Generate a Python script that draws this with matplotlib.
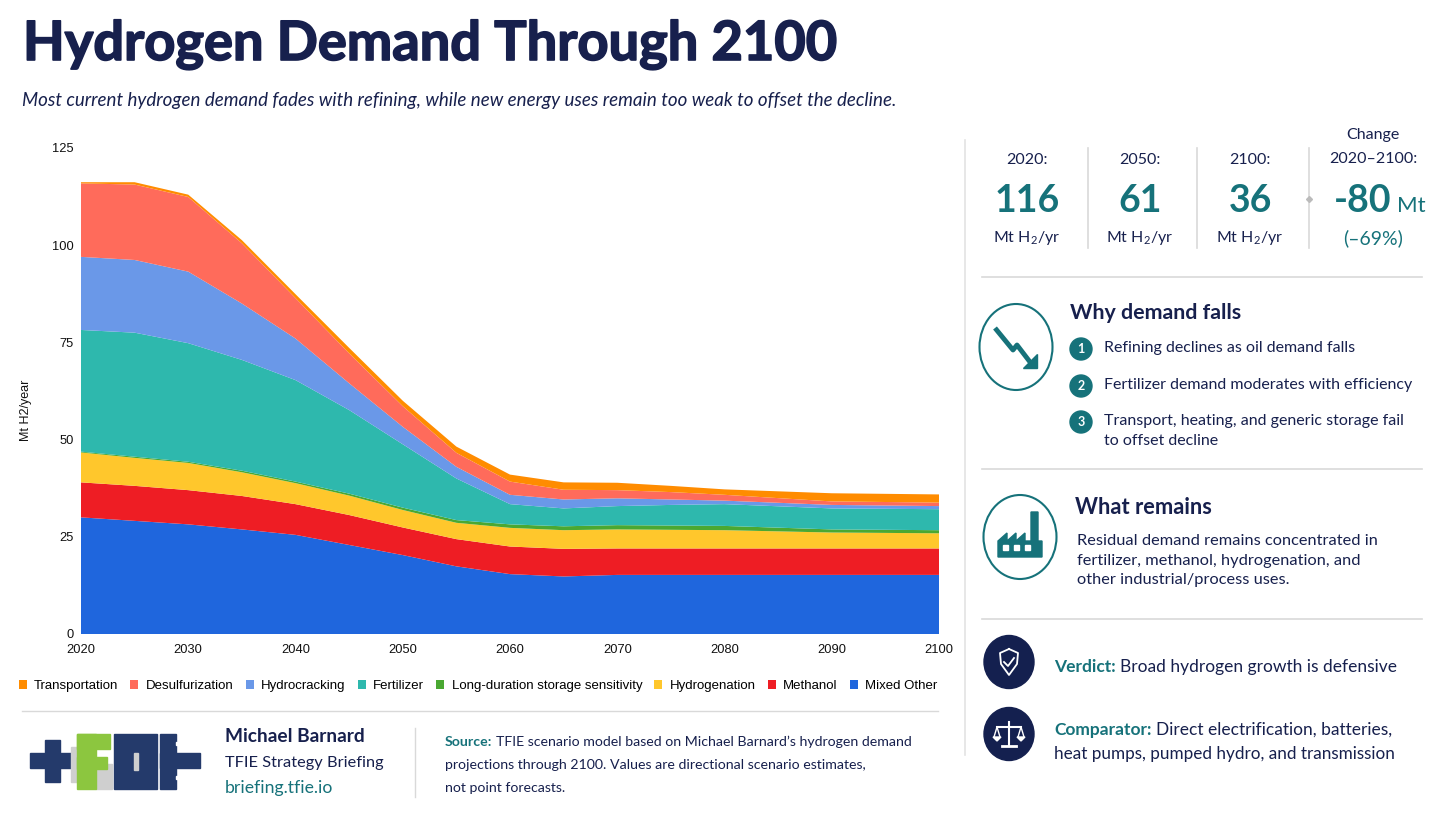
import matplotlib
matplotlib.use("Agg")
import matplotlib.pyplot as plt
import matplotlib.patheffects as pe
from matplotlib.patches import Ellipse, Rectangle, Polygon

plt.rcParams['font.family'] = ['Lato', 'DejaVu Sans']
plt.rcParams['mathtext.fontset'] = 'custom'
plt.rcParams['mathtext.rm'] = 'Lato'

# ---- data (Mt H2/yr) ----
years = [2020, 2025, 2030, 2035, 2040, 2045, 2050, 2055, 2060, 2065, 2070, 2075, 2080, 2090, 2100]
mixed_other = [30.0, 29.1, 28.2, 26.9, 25.5, 22.9, 20.3, 17.4, 15.4, 14.8, 15.2, 15.2, 15.2, 15.2, 15.2]
methanol = [9.0, 9.0, 8.8, 8.6, 7.9, 7.7, 7.1, 7.0, 7.1, 7.1, 6.8, 6.8, 6.8, 6.8, 6.8]
hydrogenation = [7.7, 7.2, 7.0, 6.1, 5.4, 5.0, 4.5, 4.2, 4.8, 4.8, 4.9, 4.8, 4.7, 4.1, 3.9]
storage = [0.2, 0.3, 0.3, 0.4, 0.4, 0.5, 0.6, 0.7, 0.9, 1.0, 1.1, 1.1, 1.1, 0.8, 0.8]
fertilizer = [31.3, 31.9, 30.5, 28.5, 26.1, 21.5, 16.3, 10.7, 5.2, 4.6, 4.9, 5.3, 5.6, 5.4, 5.4]
hydrocracking = [18.8, 18.7, 18.4, 14.5, 10.7, 6.9, 4.5, 3.0, 2.4, 2.3, 2.0, 1.4, 0.9, 0.9, 0.8]
desulfurization = [18.9, 19.4, 19.2, 15.5, 10.4, 7.7, 5.3, 3.6, 3.4, 2.5, 2.1, 1.9, 1.5, 0.9, 0.9]
transportation = [0.3, 0.6, 0.6, 0.8, 1.0, 1.4, 1.4, 1.6, 1.8, 1.9, 1.9, 1.6, 1.4, 2.1, 2.1]

series_names = ["Mixed Other", "Methanol", "Hydrogenation", "Long-duration storage sensitivity",
                "Fertilizer", "Hydrocracking", "Desulfurization", "Transportation"]
series_vals = [mixed_other, methanol, hydrogenation, storage,
               fertilizer, hydrocracking, desulfurization, transportation]
series_colors = ["#1f66dd", "#ee1d24", "#ffc72c", "#4aa832",
                 "#2eb8ad", "#6a98e8", "#ff6b5b", "#ff8c00"]

stat_years = ["2020:", "2050:", "2100:"]
stat_values = ["116", "61", "36"]
change_value = "-80"
change_pct = "(\u201369%)"

why_items = ["Refining declines as oil demand falls",
             "Fertilizer demand moderates with efficiency",
             "Transport, heating, and generic storage fail\nto offset decline"]

NAVY = "#17204d"
TEAL = "#16727a"
GRAY = "#d9d9d9"

W, H = 1456, 819
fig = plt.figure(figsize=(W / 100, H / 100), dpi=100)
fig.patch.set_facecolor("white")

# overlay axes in pixel units for the text panels and icons
ov = fig.add_axes([0, 0, 1, 1])
ov.set_xlim(0, W)
ov.set_ylim(H, 0)
ov.axis("off")
renderer = fig.canvas.get_renderer()


def fit(t, width):
    bb = t.get_window_extent(renderer)
    t.set_fontsize(t.get_fontsize() * width / bb.width)
    return t


def runs(x, y, parts, size, va="center"):
    gap = size * 0.27 * 100 / 72
    for s, kw in parts:
        t = ov.text(x, y, s, fontsize=size, va=va, ha="left", **kw)
        x += t.get_window_extent(renderer).width + gap


# ---- header ----
title = fit(ov.text(23, 60, "Hydrogen Demand Through 2100", fontsize=40, fontweight="bold",
                    color=NAVY, va="baseline"), 814)
title.set_path_effects([pe.withStroke(linewidth=1.2, foreground=NAVY)])
fit(ov.text(22, 106, "Most current hydrogen demand fades with refining, while new energy uses "
            "remain too weak to offset the decline.", fontsize=13, style="italic",
            color=NAVY, va="baseline"), 870)

# ---- main chart ----
ax = fig.add_axes([81 / W, 1 - 634 / H, 858 / W, 486 / H])
ax.stackplot(years, series_vals, colors=series_colors, labels=series_names, linewidth=0)
ax.set_xlim(2020, 2100)
ax.set_ylim(0, 125)
ax.set_xticks(range(2020, 2101, 10))
ax.set_yticks(range(0, 126, 25))
for s in ax.spines.values():
    s.set_visible(False)
ax.tick_params(length=0, labelsize=9.3, labelcolor="#111111")
ax.tick_params(axis="y", pad=5)
ax.tick_params(axis="x", pad=7)
for lab in ax.get_xticklabels() + ax.get_yticklabels():
    lab.set_fontfamily("Liberation Sans")
ax.set_ylabel("Mt H2/year", fontsize=9, fontfamily="Liberation Sans", color="#111111")
ax.yaxis.set_label_coords(-49 / 858, 0.46)

handles, labels = ax.get_legend_handles_labels()
fig.legend(handles[::-1], labels[::-1], ncol=8, loc="center",
           bbox_to_anchor=(478 / W, 1 - 686 / H), frameon=False,
           prop={"family": "Liberation Sans", "size": 9.55},
           handlelength=0.6, handleheight=0.6, handletextpad=0.57, columnspacing=0.9)

# ---- footer ----
ov.plot([22, 938], [711, 711], color=GRAY, lw=1)
logo_navy = "#243a6b"
logo_green = "#8cc63f"
logo_gray = "#cfcfcf"
ov.add_patch(Rectangle((30, 753), 45, 15, color=logo_navy))
ov.add_patch(Rectangle((45, 740), 15, 42, color=logo_navy))
ov.add_patch(Rectangle((71, 747), 9, 35, color=logo_gray))
ov.add_patch(Rectangle((96, 764), 16, 25, color=logo_gray))
ov.add_patch(Rectangle((77, 734), 19, 55, color=logo_green))
ov.add_patch(Rectangle((77, 734), 33, 15, color=logo_green))
ov.add_patch(Rectangle((77, 757), 30, 12, color=logo_green))
ov.add_patch(Rectangle((114, 734), 43, 55, color=logo_navy))
ov.add_patch(Rectangle((134, 753), 4, 17, color=logo_gray))
ov.add_patch(Rectangle((160, 734), 16, 55, color=logo_navy))
ov.add_patch(Rectangle((160, 753), 40, 15, color=logo_navy))
ov.add_patch(Rectangle((176, 742), 10, 3, color="white"))
ov.add_patch(Rectangle((176, 776), 10, 3, color="white"))

fit(ov.text(225, 737, "Michael Barnard", fontsize=12.5, fontweight="bold", color=NAVY, va="center"), 141)
fit(ov.text(225, 763, "TFIE Strategy Briefing", fontsize=12.5, color=NAVY, va="center"), 158)
fit(ov.text(225, 788, "briefing.tfie.io", fontsize=12.5, color=TEAL, va="center"), 108)
ov.plot([415, 415], [728, 797], color=GRAY, lw=1)

src_size = 10.2
runs(445, 742, [("Source:", dict(color=TEAL, fontweight="bold")),
                ("TFIE scenario model based on Michael Barnard\u2019s hydrogen demand",
                 dict(color=NAVY))], src_size)
ov.text(445, 765, "projections through 2100. Values are directional scenario estimates,",
        fontsize=src_size, color=NAVY, va="center")
ov.text(445, 788, "not point forecasts.", fontsize=src_size, color=NAVY, va="center")

# ---- right panel ----
ov.plot([965, 965], [140, 755], color="#e3e3e3", lw=1.2)

col_x = [1027, 1140, 1250]
num_size = 27
for cx, yr, val in zip(col_x, stat_years, stat_values):
    ov.text(cx, 160, yr, fontsize=11.5, color=NAVY, ha="center", va="center")
    ov.text(cx, 201, val, fontsize=num_size, fontweight="bold", color=TEAL, ha="center", va="center")
    ov.text(cx, 238, r"Mt H$_2$/yr", fontsize=11.5, color=NAVY, ha="center", va="center")
for sx in [1088, 1197, 1309]:
    ov.plot([sx, sx], [148, 248], color=GRAY, lw=1.2)
ov.plot([1309], [199], marker="D", ms=3, color="#bbbbbb")

ov.text(1373, 135, "Change", fontsize=11.5, color=NAVY, ha="center", va="center")
ov.text(1373, 159, "2020\u20132100:", fontsize=11.5, color=NAVY, ha="center", va="center")
ov.text(1391, 201, change_value, fontsize=num_size, fontweight="bold", color=TEAL, ha="right", va="center")
ov.text(1397, 206, "Mt", fontsize=16, color=TEAL, ha="left", va="center")
ov.text(1373, 238, change_pct, fontsize=14, color=TEAL, ha="center", va="center")
ov.plot([982, 1422], [277, 277], color=GRAY, lw=1.2)

# why demand falls
ov.add_patch(Ellipse((1016, 347), 73, 86, fill=False, ec=TEAL, lw=1.5))
ov.plot([995, 1013, 1017, 1030], [328, 350, 345, 362], color=TEAL, lw=3.5, solid_capstyle="butt")
ov.add_patch(Polygon([[1023, 368], [1037, 368], [1037, 354]], closed=True, color=TEAL))
fit(ov.text(1070, 313, "Why demand falls", fontsize=15, fontweight="bold", color=NAVY, va="center"), 172)
for i, (yy, txt) in enumerate(zip([349, 386, 422], why_items)):
    ov.add_patch(Ellipse((1081, yy), 22, 22, color=TEAL))
    ov.text(1081, yy, str(i + 1), fontsize=9, fontweight="bold", color="white", ha="center", va="center")
    ov.text(1104, yy - 8, txt, fontsize=11.5, color=NAVY, va="top", linespacing=1.55)
ov.plot([982, 1422], [469, 469], color=GRAY, lw=1.2)

# what remains
ov.add_patch(Ellipse((1020, 537), 73, 84, fill=False, ec=TEAL, lw=1.5))
ov.add_patch(Polygon([[998, 557], [998, 541], [1007, 533], [1007, 541], [1016, 533], [1016, 541],
                      [1025, 533], [1025, 541], [1031, 541], [1031, 512], [1038, 512], [1038, 541],
                      [1042, 541], [1042, 557]], closed=True, color=TEAL))
for wx in [1003, 1014, 1025]:
    ov.add_patch(Rectangle((wx, 545), 5, 5, color="white"))
fit(ov.text(1075, 507, "What remains", fontsize=15, fontweight="bold", color=NAVY, va="center"), 137)
ov.text(1077, 534, "Residual demand remains concentrated in\nfertilizer, methanol, hydrogenation, and\n"
        "other industrial/process uses.", fontsize=11.8, color=NAVY, va="top", linespacing=1.5)
ov.plot([982, 1422], [619, 619], color=GRAY, lw=1.2)

# verdict / comparator
ov.add_patch(Ellipse((1009, 662), 50, 53, color="#14204f"))
ov.plot([1009, 1000, 1001, 1009, 1017, 1018, 1009], [649, 653, 664, 675, 664, 653, 649], color="white", lw=1.3)
ov.plot([1004, 1008, 1014], [662, 666, 658], color="white", lw=1.3)
ov.add_patch(Ellipse((1009, 734), 50, 53, color="#14204f"))
ov.plot([1009, 1009], [722, 746], color="white", lw=1.5)
ov.plot([1002, 1016], [746, 746], color="white", lw=2)
ov.plot([997, 1021], [727, 727], color="white", lw=1.5)
ov.plot([994, 997, 1000], [737, 727, 737], color="white", lw=1)
ov.plot([1018, 1021, 1024], [737, 727, 737], color="white", lw=1)
ov.add_patch(Polygon([[993, 737], [1001, 737], [997, 741]], closed=True, color="white"))
ov.add_patch(Polygon([[1017, 737], [1025, 737], [1021, 741]], closed=True, color="white"))

runs(1054, 667, [("Verdict:", dict(color=TEAL, fontweight="bold")),
                 ("Broad hydrogen growth is defensive", dict(color=NAVY))], 12.5)
runs(1054, 730, [("Comparator:", dict(color=TEAL, fontweight="bold")),
                 ("Direct electrification, batteries,", dict(color=NAVY))], 12.5)
ov.text(1054, 754, "heat pumps, pumped hydro, and transmission", fontsize=12.3, color=NAVY, va="center")

fig.savefig("out.png", dpi=100, facecolor="white")
